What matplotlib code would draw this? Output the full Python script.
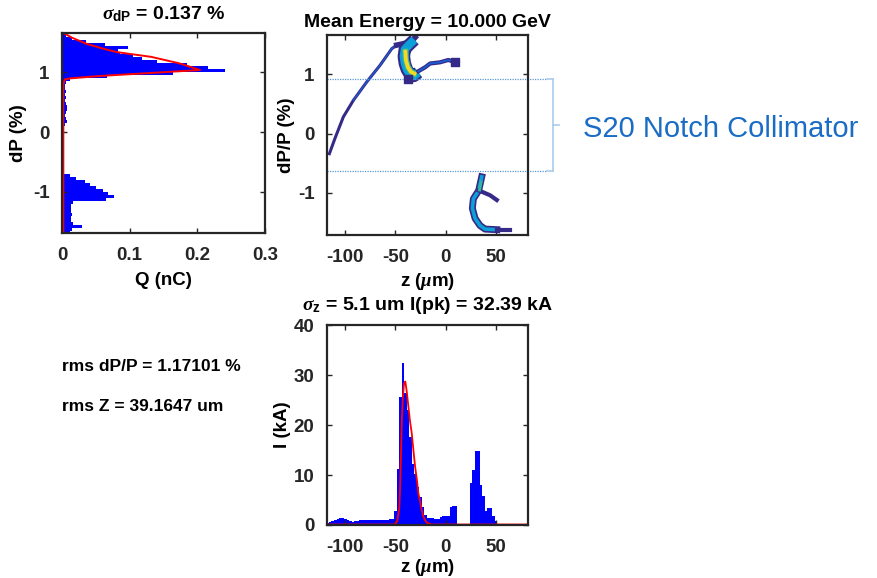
import numpy as np
import matplotlib
matplotlib.use("Agg")
import matplotlib.pyplot as plt

plt.rcParams['font.family'] = ['Liberation Sans', 'DejaVu Sans']
plt.rcParams['font.weight'] = 'bold'
plt.rcParams['axes.unicode_minus'] = False
plt.rcParams['mathtext.fontset'] = 'custom'
plt.rcParams['mathtext.rm'] = 'Liberation Sans:bold'
plt.rcParams['mathtext.bf'] = 'Liberation Sans:bold'
plt.rcParams['mathtext.it'] = 'Liberation Serif:italic'

# -----------------------------
# Data: energy spectrum (left)
# -----------------------------
dp_top = 1.65
dp_bin = 0.05
q_vals = [0.006, 0.015, 0.035, 0.064, 0.098, 0.083, 0.085, 0.105, 0.118, 0.140,
          0.185, 0.216, 0.241, 0.164, 0.066, 0.012, 0.006, 0.004, 0.005, 0.006,
          0.005, 0.006, 0.005, 0.006, 0.007, 0.008, 0.006, 0.005, 0.006, 0.007,
          0.004, 0.003, 0.002,
          0.002, 0.002, 0.002, 0.002, 0.002, 0.002, 0.002, 0.002, 0.002, 0.002,
          0.002, 0.002, 0.002, 0.002,
          0.012, 0.021, 0.034, 0.041, 0.051, 0.060, 0.068, 0.077, 0.065, 0.016,
          0.014, 0.013, 0.014, 0.015, 0.013, 0.014, 0.016, 0.029, 0.015, 0.012]
fit_dp = [1.65, 1.58, 1.48, 1.40, 1.34, 1.26, 1.15, 1.04, 0.99, 0.94, 0.90, 0.88, 0.80, -1.69]
fit_q = [0.004, 0.015, 0.036, 0.060, 0.081, 0.132, 0.174, 0.204, 0.130, 0.056, 0.012, 0.004, 0.002, 0.002]

# -----------------------------
# Data: longitudinal phase space (middle)
# -----------------------------
tail_z = [-115.6, -110, -101.7, -91.7, -78.4, -65.2, -53.5, -48.6]
tail_dp = [-0.34, -0.08, 0.28, 0.56, 0.87, 1.15, 1.43, 1.49]
topedge_z = [-48.6, -43, -38, -33, -30.3]
topedge_dp = [1.49, 1.51, 1.53, 1.57, 1.62]
cres_z = [-31, -36, -40.5, -41.5, -40.5, -38.5, -35.5, -31.5, -27]
cres_dp = [1.58, 1.50, 1.42, 1.30, 1.18, 1.08, 1.00, 0.97, 1.03]
core_z = [-40, -39.5, -37.5, -34.5, -31]
core_dp = [1.38, 1.24, 1.12, 1.04, 1.01]
rtail_z = [-27, -20, -15.4, -5.5, 2.8, 7.8, 11]
rtail_dp = [1.05, 1.12, 1.18, 1.20, 1.24, 1.21, 1.20]
blob_z = [-37, 9.5]
blob_dp = [0.92, 1.20]
low_z = [36, 33, 27.7, 26.7, 29.4, 34.3, 39.3, 51]
low_dp = [-0.73, -0.96, -1.10, -1.26, -1.43, -1.55, -1.61, -1.62]
lowtail_z = [51, 64]
lowtail_dp = [-1.62, -1.62]
branch_z = [33, 36, 44.3, 51]
branch_dp = [-0.96, -0.98, -1.04, -1.12]
green_z = [35.2, 33.8]
green_dp = [-0.82, -0.95]
notch_dp = [0.916, -0.636]

# -----------------------------
# Data: current profile (bottom)
# -----------------------------
z_start = -118.5
z_bin = 2.5
i_vals = [0.3, 0.5, 0.8, 1.0, 1.2, 1.3, 1.3, 1.2, 1.0, 0.7,
          0.6, 0.7, 0.8, 0.9, 0.9, 1.0, 1.0, 0.9, 0.9, 0.9,
          0.9, 0.9, 1.0, 1.0, 1.0, 1.1, 1.1, 2.7, 11.3, 25.7,
          32.4, 26.5, 23.0, 17.7, 12.3, 10.3, 7.5, 5.5, 3.5, 2.0,
          1.3, 1.3, 1.3, 1.2, 1.2, 1.5, 1.7, 1.8, 1.8, 3.5,
          3.7, 3.8, 0.2, 0.1, 0.1, 0.1, 0.2, 8.3, 11.0, 14.8,
          14.8, 8.0, 5.7, 2.7, 3.3, 3.3, 1.7, 0.7, 0.2, 0.1,
          0.1, 0.1, 0.1, 0.1, 0.1, 0.1, 0.1, 0.1, 0.1, 0.1, 0.1]
ifit_z = [-118, -50.5, -48, -46, -45.3, -44.5, -43.6, -42.5, -41.3, -40, -38.5, -37,
          -35.5, -33.6, -32, -30.3, -28.5, -27, -25.4, -23.7, -22, -20.5, -18.8,
          -16, -13.8, -10, 82]
ifit_i = [0.1, 0.1, 0.8, 3.5, 7, 13, 20.3, 25.5, 28.3, 28.7, 26.5, 23.7,
          21, 18.3, 15, 11.7, 9, 6.3, 4.8, 3, 1.7, 1.0, 0.5,
          0.25, 0.1, 0.1, 0.1]

# parula-like colours
c_dark = '#352a87'
c_blue = '#1a5fd8'
c_light = '#0d9fd8'
c_teal = '#2fb8a0'
c_yellow = '#f4d822'

FS = 13.5

fig = plt.figure(figsize=(8.78, 5.78), dpi=100)


def style_axes(ax):
    for s in ax.spines.values():
        s.set_linewidth(1.6)
        s.set_color('#262626')
    ax.tick_params(direction='in', top=True, right=True, length=3.5, width=1,
                   labelsize=FS, colors='#262626')
    ax.tick_params(axis='x', pad=10)
    ax.tick_params(axis='y', pad=9)
    for lab in ax.get_xticklabels() + ax.get_yticklabels():
        lab.set_fontweight('bold')


# -----------------------------
# Left: dP histogram
# -----------------------------
ax1 = fig.add_axes([0.0706, 0.5969, 0.2312, 0.346])
dp_edges = dp_top - dp_bin * np.arange(len(q_vals) + 1)
ax1.stairs(q_vals, dp_edges, orientation='horizontal', fill=True, color='blue')
ax1.plot(fit_q, fit_dp, color='red', lw=1.4)
ax1.set_xlim(0, 0.3)
ax1.set_ylim(-1.69, 1.66)
ax1.set_xticks([0, 0.1, 0.2, 0.3])
ax1.set_xticklabels(['0', '0.1', '0.2', '0.3'])
ax1.set_yticks([-1, 0, 1])
ax1.set_xlabel('Q (nC)', fontsize=FS, fontweight='bold', labelpad=6)
ax1.set_ylabel('dP (%)', fontsize=FS, fontweight='bold', labelpad=4)
ax1.set_title(r'$\sigma_{\mathbf{dP}}$ = 0.137 %', fontsize=14, fontweight='bold', pad=10)
style_axes(ax1)

# -----------------------------
# Middle: phase space
# -----------------------------
ax2 = fig.add_axes([0.3724, 0.5934, 0.2289, 0.346])
ax2.plot(tail_z, tail_dp, color=c_dark, lw=2.2)
ax2.plot(tail_z[3:], tail_dp[3:], color=c_blue, lw=0.9)
ax2.plot(topedge_z, topedge_dp, color=c_dark, lw=4)
ax2.plot(cres_z, cres_dp, color=c_dark, lw=9, solid_capstyle='butt')
ax2.plot(cres_z, cres_dp, color=c_light, lw=6, solid_capstyle='butt')
ax2.plot(core_z, core_dp, color=c_teal, lw=4.5)
ax2.plot(core_z, core_dp, color=c_yellow, lw=2.8)
ax2.plot(rtail_z, rtail_dp, color=c_dark, lw=3)
ax2.plot(rtail_z, rtail_dp, color=c_blue, lw=1.2)
ax2.scatter(blob_z, blob_dp, marker='s', s=36, color=c_dark, zorder=3)
ax2.plot(low_z, low_dp, color=c_dark, lw=5)
ax2.plot(low_z, low_dp, color=c_light, lw=2.6)
ax2.plot(lowtail_z, lowtail_dp, color=c_dark, lw=3)
ax2.plot(branch_z, branch_dp, color=c_dark, lw=3)
ax2.plot(green_z, green_dp, color=c_teal, lw=2.2)
ax2.set_xlim(-118, 82)
ax2.set_ylim(-1.71, 1.66)
ax2.set_xticks([-100, -50, 0, 50])
ax2.set_yticks([-1, 0, 1])
ax2.set_xlabel(r'z ($\mu$m)', fontsize=FS, fontweight='bold', labelpad=4)
ax2.set_ylabel('dP/P (%)', fontsize=FS, fontweight='bold', labelpad=2)
ax2.set_title('Mean Energy = 10.000 GeV', fontsize=14, fontweight='bold', pad=6)
style_axes(ax2)

# notch collimator markers
for d in notch_dp:
    ax2.plot([-118, 101], [d, d], color='#5b9bd5', lw=0.9, ls=(0, (1, 1)), clip_on=False)
    ax2.plot([101, 107], [d, d], color='#a9cbea', lw=1.2, clip_on=False)
ax2.plot([107, 107], notch_dp, color='#a9cbea', lw=1.2, clip_on=False)
ax2.plot([107, 113], [np.mean(notch_dp)] * 2, color='#a9cbea', lw=1.2, clip_on=False)
fig.text(0.664, 0.777, 'S20 Notch Collimator', fontsize=21, fontweight='normal',
         color='#1a6cc4', va='center', ha='left')

# -----------------------------
# Bottom: current profile
# -----------------------------
ax3 = fig.add_axes([0.3724, 0.0917, 0.2289, 0.346])
z_edges = z_start + z_bin * np.arange(len(i_vals) + 1)
ax3.stairs(i_vals, z_edges, fill=True, color='blue')
ax3.plot(ifit_z, ifit_i, color='red', lw=1.3)
ax3.set_xlim(-118, 82)
ax3.set_ylim(0, 40)
ax3.set_xticks([-100, -50, 0, 50])
ax3.set_yticks([0, 10, 20, 30, 40])
ax3.set_xlabel(r'z ($\mu$m)', fontsize=FS, fontweight='bold', labelpad=1)
ax3.set_ylabel('I (kA)', fontsize=FS, fontweight='bold', labelpad=2)
ax3.set_title(r'$\sigma_{\mathbf{z}}$ = 5.1 um I(pk) = 32.39 kA', fontsize=14,
              fontweight='bold', pad=11)
style_axes(ax3)

fig.text(0.071, 0.366, 'rms dP/P = 1.17101 %', fontsize=12.5, fontweight='bold', va='center')
fig.text(0.071, 0.296, 'rms Z = 39.1647 um', fontsize=12.5, fontweight='bold', va='center')

fig.savefig('out.png', dpi=100)
